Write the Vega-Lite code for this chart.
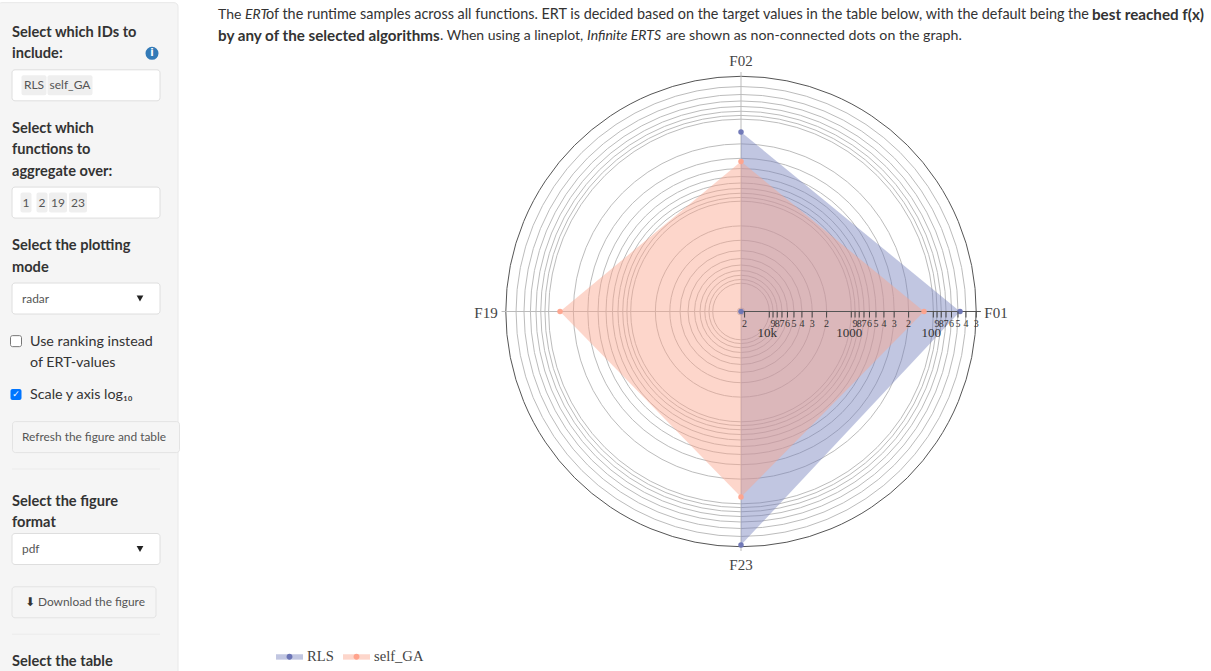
{"$schema":"https://vega.github.io/schema/vega-lite/v6.json","width":1211,"height":671,"padding":0,"autosize":{"type":"none"},"background":"white","config":{"view":{"stroke":null}},
"params":[
{"name":"formRows","value":["0","1","2","3","ids1","5","6","7","ids2","9","10","11","12","13","ids","15","16","17","18","19","20","21","fn1","23","24","25","fn2","27","28","29","fn3","31","32","33","34","35","fn","37","38","39","40","41","42","43","mode1","45","46","47","mode2","49","50","51","52","53","mode","55","56","57","58","59","60","61","rank1","63","64","65","rank2","67","68","69","70","71","log","73","74","75","76","77","78","79","refresh","81","82","83","84","85","hr1","87","88","89","90","91","fmt1","93","94","95","fmt2","97","98","99","100","fmt","102","103","104","105","106","107","108","109","110","download","112","113","114","115","116","hr2","118","119","120","121","tbl"]},
{"name":"formCols","value":["c0","c1","c2","c3","c4","c5","heading","c7","checkbox","c9","c10","control","c12","chip1","c14","indent","c16","chipRLS","c18","dltext","c20","chip2","c22","c23","c24","c25","c26","c27","c28","chip19","c30","c31","c32","c33","c34","chipGA","c36","c37","c38","chip23","c40","c41","dlbtn","box","panel","c45","c46","c47","refreshbtn","c49","c50","c51","c52","c53","c54","c55","c56","c57","c58","c59","c60","c61","c62","c63","c64","c65","c66","c67","c68","c69","arrow","c71","c72","c73","c74","c75","info","c77","c78","c79","c80","c81","c82","c83","c84","c85","c86","c87","c88","c89","c90"]}
],
"datasets":{
"ert":[
{"function":"F01","algorithm":"RLS","ERT":47.2},{"function":"F02","algorithm":"RLS","ERT":143.2},{"function":"F19","algorithm":"RLS","ERT":22130},{"function":"F23","algorithm":"RLS","ERT":31.4},
{"function":"F01","algorithm":"self_GA","ERT":129.7},{"function":"F02","algorithm":"self_GA","ERT":328},{"function":"F19","algorithm":"self_GA","ERT":137.4},{"function":"F23","algorithm":"self_GA","ERT":121}],
"ticks":[
{"ERT":20000,"label":"2","kind":"minor"},{"ERT":10000,"label":"10k","kind":"major"},{"ERT":9000,"label":"9","kind":"minor"},{"ERT":8000,"label":"8","kind":"minor"},{"ERT":7000,"label":"7","kind":"minor"},{"ERT":6000,"label":"6","kind":"minor"},{"ERT":5000,"label":"5","kind":"minor"},{"ERT":4000,"label":"4","kind":"minor"},{"ERT":3000,"label":"3","kind":"minor"},{"ERT":2000,"label":"2","kind":"minor"},
{"ERT":1000,"label":"1000","kind":"major"},{"ERT":900,"label":"9","kind":"minor"},{"ERT":800,"label":"8","kind":"minor"},{"ERT":700,"label":"7","kind":"minor"},{"ERT":600,"label":"6","kind":"minor"},{"ERT":500,"label":"5","kind":"minor"},{"ERT":400,"label":"4","kind":"minor"},{"ERT":300,"label":"3","kind":"minor"},{"ERT":200,"label":"2","kind":"minor"},
{"ERT":100,"label":"100","kind":"major"},{"ERT":90,"label":"9","kind":"minor"},{"ERT":80,"label":"8","kind":"minor"},{"ERT":70,"label":"7","kind":"minor"},{"ERT":60,"label":"6","kind":"minor"},{"ERT":50,"label":"5","kind":"minor"},{"ERT":40,"label":"4","kind":"minor"},{"ERT":30,"label":"3","kind":"minor"}],
"functions":[{"function":"F01"},{"function":"F02"},{"function":"F19"},{"function":"F23"}],
"para":[{"line":"l1","col":"p","run":"r1","label":"The"},{"line":"l1","col":"p","run":"r2","label":"ERT"},{"line":"l1","col":"p","run":"r3","label":"of the runtime samples across all functions. ERT is decided based on the target values in the table below, with the default being the"},{"line":"l1","col":"p","run":"r4","label":"best reached f(x)"},{"line":"l2","col":"p","run":"r5","label":"by any of the selected algorithms"},{"line":"l2","col":"p","run":"r6","label":". When using a lineplot,"},{"line":"l2","col":"p","run":"r7","label":"Infinite ERTS"},{"line":"l2","col":"p","run":"r8","label":"are shown as non-connected dots on the graph."}],
"form":[
{"kind":"panel","item":"rank1","col":"panel"},
{"kind":"input","item":"ids","col":"box"},{"kind":"input","item":"fn","col":"box"},{"kind":"input","item":"mode","col":"box"},{"kind":"input","item":"fmt","col":"box"},
{"kind":"refresh","item":"refresh","col":"refreshbtn"},{"kind":"dl","item":"download","col":"dlbtn"},
{"kind":"hr","item":"hr1","col":"box"},{"kind":"hr","item":"hr2","col":"box"},
{"kind":"chipS","item":"fn","col":"chip1"},{"kind":"chipS","item":"fn","col":"chip2"},{"kind":"chipM","item":"fn","col":"chip19"},{"kind":"chipM","item":"fn","col":"chip23"},{"kind":"chipM2","item":"ids","col":"chipRLS"},{"kind":"chipL","item":"ids","col":"chipGA"},
{"kind":"chiptext","item":"fn","col":"chip1","label":"1"},{"kind":"chiptext","item":"fn","col":"chip2","label":"2"},{"kind":"chiptext","item":"fn","col":"chip19","label":"19"},{"kind":"chiptext","item":"fn","col":"chip23","label":"23"},{"kind":"chiptext","item":"ids","col":"chipRLS","label":"RLS"},{"kind":"chiptext","item":"ids","col":"chipGA","label":"self_GA"},
{"kind":"heading","item":"ids1","col":"heading","label":"Select which IDs to"},{"kind":"heading","item":"ids2","col":"heading","label":"include:"},{"kind":"heading","item":"fn1","col":"heading","label":"Select which"},{"kind":"heading","item":"fn2","col":"heading","label":"functions to"},{"kind":"heading","item":"fn3","col":"heading","label":"aggregate over:"},{"kind":"heading","item":"mode1","col":"heading","label":"Select the plotting"},{"kind":"heading","item":"mode2","col":"heading","label":"mode"},{"kind":"heading","item":"fmt1","col":"heading","label":"Select the figure"},{"kind":"heading","item":"fmt2","col":"heading","label":"format"},{"kind":"heading","item":"tbl","col":"heading","label":"Select the table"},
{"kind":"control","item":"mode","col":"control","label":"radar"},{"kind":"control","item":"fmt","col":"control","label":"pdf"},{"kind":"control","item":"refresh","col":"control","label":"Refresh the figure and table"},{"kind":"control","item":"download","col":"dltext","label":"Download the figure"},
{"kind":"check","item":"rank1","col":"indent","label":"Use ranking instead"},{"kind":"check","item":"rank2","col":"indent","label":"of ERT-values"},{"kind":"check","item":"log","col":"indent","label":"Scale y axis log₁₀"},
{"kind":"unchecked","item":"rank1","col":"checkbox"},{"kind":"checked","item":"log","col":"checkbox"},{"kind":"tickmark","item":"log","col":"checkbox","label":"✓"},
{"kind":"arrow","item":"mode","col":"arrow"},{"kind":"arrow","item":"fmt","col":"arrow"},
{"kind":"info","item":"ids2","col":"info"},{"kind":"infotext","item":"ids2","col":"info","label":"i"},
{"kind":"dlicon","item":"download","col":"indent","label":"⬇"}]
},
"resolve":{"scale":{"x":"independent","y":"independent"}},
"layer":[
{"encoding":{
"x":{"field":"col","type":"nominal","axis":null,"scale":{"domain":{"expr":"formCols"},"range":[-1,181]}},
"y":{"field":"item","type":"nominal","axis":null,"scale":{"domain":{"expr":"formRows"},"range":[8.035,663.6]}}},
"data":{"name":"form"},
"layer":[
{"transform":[{"filter":"datum.kind==='panel'"}],"mark":{"type":"rect","width":180,"height":677,"fill":"#f5f5f5","stroke":"#e8e8e8","cornerRadius":4}},
{"transform":[{"filter":"datum.kind==='input'"}],"mark":{"type":"rect","width":148,"height":31,"fill":"white","stroke":"#dedede","cornerRadius":3}},
{"transform":[{"filter":"datum.kind==='refresh'"}],"mark":{"type":"rect","width":167,"height":31,"fill":"#f5f5f5","stroke":"#e3e3e3","cornerRadius":3}},
{"transform":[{"filter":"datum.kind==='dl'"}],"mark":{"type":"rect","width":144,"height":31,"fill":"#f5f5f5","stroke":"#e3e3e3","cornerRadius":3}},
{"transform":[{"filter":"datum.kind==='hr'"}],"mark":{"type":"rect","width":148,"height":1,"fill":"#ebebeb"}},
{"transform":[{"filter":"datum.kind==='chipS'"}],"mark":{"type":"rect","width":11,"height":20,"fill":"#efefef","cornerRadius":2}},
{"transform":[{"filter":"datum.kind==='chipM'"}],"mark":{"type":"rect","width":18,"height":20,"fill":"#efefef","cornerRadius":2}},
{"transform":[{"filter":"datum.kind==='chipM2'"}],"mark":{"type":"rect","width":25,"height":20,"fill":"#efefef","cornerRadius":2}},
{"transform":[{"filter":"datum.kind==='chipL'"}],"mark":{"type":"rect","width":45,"height":20,"fill":"#efefef","cornerRadius":2}},
{"transform":[{"filter":"datum.kind==='chiptext'"}],"mark":{"type":"text","align":"center","baseline":"middle","font":"Lato","fontSize":12,"fill":"#555"},"encoding":{"text":{"field":"label","type":"nominal"}}},
{"transform":[{"filter":"datum.kind==='heading'"}],"mark":{"type":"text","align":"left","baseline":"middle","font":"Lato","fontSize":14.6,"fontWeight":"bold","fill":"#333","dy":1},"encoding":{"text":{"field":"label","type":"nominal"}}},
{"transform":[{"filter":"datum.kind==='control'"}],"mark":{"type":"text","align":"left","baseline":"middle","font":"Lato","fontSize":11.9,"fill":"#555"},"encoding":{"text":{"field":"label","type":"nominal"}}},
{"transform":[{"filter":"datum.kind==='check'"}],"mark":{"type":"text","align":"left","baseline":"middle","font":"Lato","fontSize":14.3,"fill":"#333","dy":1},"encoding":{"text":{"field":"label","type":"nominal"}}},
{"transform":[{"filter":"datum.kind==='unchecked'"}],"mark":{"type":"rect","width":11,"height":11,"fill":"white","stroke":"#767676","cornerRadius":2}},
{"transform":[{"filter":"datum.kind==='checked'"}],"mark":{"type":"rect","width":11,"height":11,"fill":"#0075ff","cornerRadius":2}},
{"transform":[{"filter":"datum.kind==='tickmark'"}],"mark":{"type":"text","align":"center","baseline":"middle","font":"DejaVu Sans","fontSize":9,"fontWeight":"bold","fill":"white"},"encoding":{"text":{"field":"label","type":"nominal"}}},
{"transform":[{"filter":"datum.kind==='arrow'"}],"mark":{"type":"point","shape":"triangle-down","size":45,"filled":true,"fill":"#222","opacity":1}},
{"transform":[{"filter":"datum.kind==='info'"}],"mark":{"type":"circle","size":170,"fill":"#337ab7","opacity":1}},
{"transform":[{"filter":"datum.kind==='infotext'"}],"mark":{"type":"text","align":"center","baseline":"middle","font":"DejaVu Sans","fontSize":10,"fontWeight":"bold","fill":"white"},"encoding":{"text":{"field":"label","type":"nominal"}}},
{"transform":[{"filter":"datum.kind==='dlicon'"}],"mark":{"type":"text","align":"center","baseline":"middle","font":"DejaVu Sans","fontSize":12,"fill":"#333"},"encoding":{"text":{"field":"label","type":"nominal"}}}
]},
{"data":{"name":"para"},
"encoding":{
"x":{"field":"col","type":"nominal","axis":null,"scale":{"domain":["p"],"range":[218,218]}},
"y":{"field":"line","type":"nominal","axis":null,"scale":{"domain":["l1","l2"],"range":[4.5,46.5]}},
"text":{"field":"label","type":"nominal"}},
"layer":[
{"transform":[{"filter":"datum.run==='r1'"}],"mark":{"type":"text","align":"left","baseline":"middle","font":"Lato","fontSize":14,"fill":"#333"}},
{"transform":[{"filter":"datum.run==='r2'"}],"mark":{"type":"text","align":"left","baseline":"middle","font":"Lato","fontSize":14,"fontStyle":"italic","fill":"#333","dx":27}},
{"transform":[{"filter":"datum.run==='r3'"}],"mark":{"type":"text","align":"left","baseline":"middle","font":"Lato","fontSize":14.4,"fill":"#333","dx":48}},
{"transform":[{"filter":"datum.run==='r4'"}],"mark":{"type":"text","align":"left","baseline":"middle","font":"Lato","fontSize":15.2,"fontWeight":"bold","fill":"#333","dx":874}},
{"transform":[{"filter":"datum.run==='r5'"}],"mark":{"type":"text","align":"left","baseline":"middle","font":"Lato","fontSize":15.2,"fontWeight":"bold","fill":"#333"}},
{"transform":[{"filter":"datum.run==='r6'"}],"mark":{"type":"text","align":"left","baseline":"middle","font":"Lato","fontSize":14,"fill":"#333","dx":222}},
{"transform":[{"filter":"datum.run==='r7'"}],"mark":{"type":"text","align":"left","baseline":"middle","font":"Lato","fontSize":14,"fontStyle":"italic","fill":"#333","dx":369}},
{"transform":[{"filter":"datum.run==='r8'"}],"mark":{"type":"text","align":"left","baseline":"middle","font":"Lato","fontSize":14.2,"fill":"#333","dx":448}}
]},
{"layer":[
{"data":{"name":"ticks"},"transform":[{"calculate":"0","as":"zero"}],"mark":{"type":"arc","fillOpacity":0,"strokeWidth":1,"theta":0,"theta2":6.2832},
"encoding":{"x":{"field":"zero","type":"quantitative","axis":null,"scale":{"domain":[-9.0366,5.7317]}},"y":{"field":"zero","type":"quantitative","axis":null,"scale":{"domain":[-4.3841,3.7988]}},
"radius":{"field":"ERT","type":"quantitative","stack":null,"scale":{"type":"log","domain":[22130,30],"range":[0,235.2]}},
"stroke":{"condition":{"test":"datum.ERT===30","value":"#555"},"value":"#bcbcbc"}}},
{"data":{"name":"functions"},"transform":[{"calculate":"0","as":"zero"},{"calculate":"indexof(['F01','F02','F19','F23'],datum.function)*PI/2","as":"theta"},{"calculate":"2.92*cos(datum.theta)","as":"ax"},{"calculate":"2.92*sin(datum.theta)","as":"ay"},{"filter":"datum.function!=='F01'"}],"mark":{"type":"rule","stroke":"#bbbbbb","strokeWidth":1},
"encoding":{"x":{"field":"zero","type":"quantitative","axis":null,"scale":{"domain":[-9.0366,5.7317]}},"y":{"field":"zero","type":"quantitative","axis":null,"scale":{"domain":[-4.3841,3.7988]}},"x2":{"field":"ax"},"y2":{"field":"ay"}}},
{"data":{"name":"ert"},"transform":[{"calculate":"log(22130/datum.ERT)/LN10","as":"r"},{"calculate":"indexof(['F01','F02','F19','F23'],datum.function)*PI/2","as":"theta"},{"calculate":"datum.r*cos(datum.theta)","as":"px"},{"calculate":"datum.r*sin(datum.theta)","as":"py"}],
"mark":{"type":"line","interpolate":"linear-closed","fillOpacity":0.45,"strokeWidth":0},
"encoding":{"x":{"field":"px","type":"quantitative","axis":null,"scale":{"domain":[-9.0366,5.7317]}},"y":{"field":"py","type":"quantitative","axis":null,"scale":{"domain":[-4.3841,3.7988]}},"order":{"field":"function","type":"nominal"},
"fill":{"field":"algorithm","type":"nominal","scale":{"domain":["RLS","self_GA"],"range":["#7580bc","#faa58c"]},
"legend":{"orient":"none","legendX":276,"legendY":643,"direction":"horizontal","columns":2,"title":null,"symbolType":"M-1,-0.2H1V0.2H-1Z","symbolSize":729,"symbolOpacity":0.45,"symbolStrokeWidth":0,"labelFont":"Liberation Serif","labelFontSize":14.6,"labelColor":"#444","labelOffset":4,"columnPadding":9}}}},
{"data":{"name":"functions"},"transform":[{"calculate":"0","as":"zero"},{"calculate":"2.925","as":"ax"},{"filter":"datum.function==='F01'"}],"mark":{"type":"rule","stroke":"#555555","strokeWidth":1.2},
"encoding":{"x":{"field":"zero","type":"quantitative","axis":null,"scale":{"domain":[-9.0366,5.7317]}},"y":{"field":"zero","type":"quantitative","axis":null,"scale":{"domain":[-4.3841,3.7988]}},"x2":{"field":"ax"}}},
{"data":{"name":"ert"},"transform":[{"calculate":"datum.algorithm+' '","as":"dot"},{"calculate":"log(22130/datum.ERT)/LN10","as":"r"},{"calculate":"indexof(['F01','F02','F19','F23'],datum.function)*PI/2","as":"theta"},{"calculate":"datum.r*cos(datum.theta)","as":"px"},{"calculate":"datum.r*sin(datum.theta)","as":"py"}],
"mark":{"type":"circle","size":30,"opacity":0.95},
"encoding":{"x":{"field":"px","type":"quantitative","axis":null,"scale":{"domain":[-9.0366,5.7317]}},"y":{"field":"py","type":"quantitative","axis":null,"scale":{"domain":[-4.3841,3.7988]}},
"color":{"field":"dot","type":"nominal","scale":{"domain":["RLS ","self_GA "],"range":["#6b74b5","#ffa38c"]},
"legend":{"orient":"none","legendX":276,"legendY":643,"direction":"horizontal","columns":2,"title":null,"symbolType":"M-0.22,0A0.22,0.22,0,1,1,0.22,0A0.22,0.22,0,1,1,-0.22,0Z","symbolSize":729,"symbolOpacity":1,"symbolStrokeWidth":0,"labelExpr":"''","labelOffset":4,"columnPadding":36}}}},
{"data":{"name":"ticks"},"transform":[{"calculate":"0","as":"zero"},{"calculate":"log(22130/datum.ERT)/LN10","as":"r"}],"mark":{"type":"tick","orient":"vertical","size":6,"yOffset":3,"color":"#444","thickness":1,"opacity":1},
"encoding":{"x":{"field":"r","type":"quantitative","axis":null,"scale":{"domain":[-9.0366,5.7317]}},"y":{"field":"zero","type":"quantitative","axis":null,"scale":{"domain":[-4.3841,3.7988]}}}},
{"data":{"name":"ticks"},"transform":[{"calculate":"0","as":"zero"},{"filter":"datum.kind==='minor'"},{"calculate":"log(22130/datum.ERT)/LN10","as":"r"}],"mark":{"type":"text","font":"Liberation Serif","fontSize":10,"fill":"#333","dy":12,"align":"center","baseline":"middle"},
"encoding":{"x":{"field":"r","type":"quantitative","axis":null,"scale":{"domain":[-9.0366,5.7317]}},"y":{"field":"zero","type":"quantitative","axis":null,"scale":{"domain":[-4.3841,3.7988]}},"text":{"field":"label","type":"nominal"}}},
{"data":{"name":"ticks"},"transform":[{"calculate":"0","as":"zero"},{"filter":"datum.kind==='major'"},{"calculate":"log(22130/datum.ERT)/LN10","as":"r"}],"mark":{"type":"text","font":"Liberation Serif","fontSize":13,"fill":"#333","dy":21,"dx":-2,"align":"center","baseline":"middle"},
"encoding":{"x":{"field":"r","type":"quantitative","axis":null,"scale":{"domain":[-9.0366,5.7317]}},"y":{"field":"zero","type":"quantitative","axis":null,"scale":{"domain":[-4.3841,3.7988]}},"text":{"field":"label","type":"nominal"}}},
{"data":{"name":"functions"},"transform":[{"calculate":"indexof(['F01','F02','F19','F23'],datum.function)*PI/2","as":"theta"},{"calculate":"(datum.function==='F01'||datum.function==='F19'?3.11:3.073)","as":"lr"},{"calculate":"datum.lr*cos(datum.theta)","as":"lx"},{"calculate":"datum.lr*sin(datum.theta)","as":"ly"}],"mark":{"type":"text","font":"Liberation Serif","fontSize":15,"fill":"#444","align":"center","baseline":"middle","dy":1.5},
"encoding":{"x":{"field":"lx","type":"quantitative","axis":null,"scale":{"domain":[-9.0366,5.7317]}},"y":{"field":"ly","type":"quantitative","axis":null,"scale":{"domain":[-4.3841,3.7988]}},"text":{"field":"function","type":"nominal"}}}
]}
]}
